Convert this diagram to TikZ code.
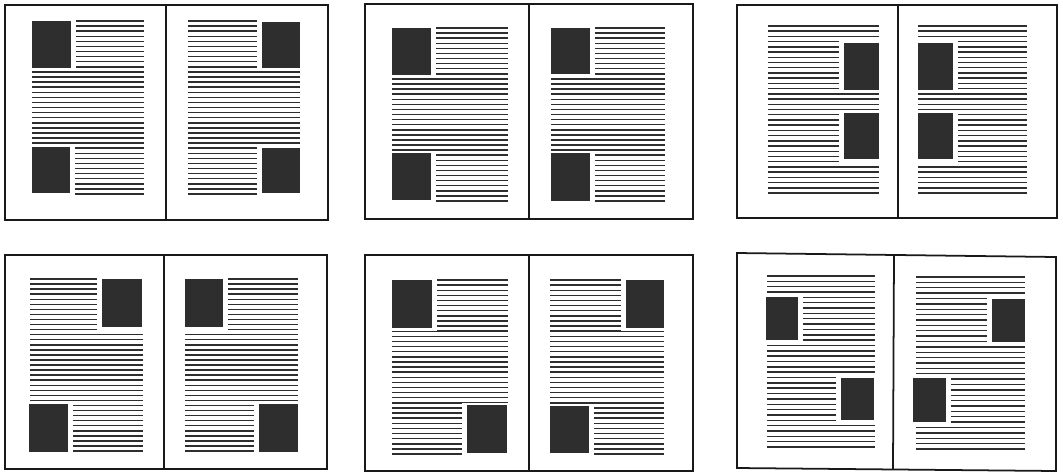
\documentclass[tikz,border=0pt]{standalone}
\begin{document}
\begin{tikzpicture}[x=0.01cm,y=-0.01cm,
  tl/.style={line width=0.42pt,draw=black!82},
  frame/.style={line width=0.5pt,draw=black!90},
  imgc/.style={fill=black!82},
  cover/.style={fill=white}]
\useasboundingbox (0,0) rectangle (1063,475);
\fill[white] (0,0) rectangle (1063,475);
\newcommand\tlines[5]{\foreach \k in {0,...,#5}{\draw[tl] (#1,{#3+\k*(#4-#3)/#5}) -- (#2,{#3+\k*(#4-#3)/#5});}}
\newcommand\img[4]{\fill[cover] ({#1-5},{#2-2.5}) rectangle ({#3+5},{#4+2.5}); \fill[imgc] (#1,#2) rectangle (#3,#4);}
% ---- spread 1 (top left)
\tlines{32}{144}{21}{194}{34}
\tlines{188}{300}{21}{194}{34}
\img{32}{21}{71}{68}
\img{32}{147}{70}{193}
\img{262}{22}{300}{68}
\img{262}{148}{300}{193}
\draw[frame] (5,5) rectangle (328,220);
\draw[frame] (166,5) -- (166,220);
% ---- spread 2 (top middle)
\tlines{392}{508}{28}{201}{34}
\tlines{551}{665}{28}{201}{34}
\img{392}{28}{431}{75}
\img{392}{153}{431}{200}
\img{551}{28}{590}{74}
\img{551}{153}{590}{201}
\draw[frame] (365,4) rectangle (693,219);
\draw[frame] (529,4) -- (529,219);
% ---- spread 3 (top right)
\tlines{768}{879}{26}{193}{32}
\tlines{918}{1027}{26}{193}{32}
\img{844}{43}{879}{90}
\img{844}{113}{879}{159}
\img{918}{43}{953}{90}
\img{918}{113}{953}{159}
\draw[frame] (737,5) rectangle (1057,218);
\draw[frame] (898,5) -- (898,218);
% ---- spread 4 (bottom left)
\tlines{30}{143}{279}{451}{34}
\tlines{185}{298}{279}{451}{34}
\img{102}{279}{142}{327}
\img{29}{404}{68}{452}
\img{185}{279}{223}{327}
\img{259}{404}{298}{452}
\draw[frame] (5,255) rectangle (327,469);
\draw[frame] (164,255) -- (164,469);
% ---- spread 5 (bottom middle)
\tlines{392}{508}{280}{454}{34}
\tlines{550}{664}{280}{454}{34}
\img{392}{280}{432}{328}
\img{467}{405}{507}{453}
\img{626}{280}{664}{328}
\img{550}{406}{589}{453}
\draw[frame] (365,255) rectangle (693,471);
\draw[frame] (529,255) -- (529,471);
% ---- spread 6 (bottom right)
\tlines{767}{875}{276}{447}{32}
\tlines{916}{1025}{277}{449}{32}
\img{766}{297}{798}{340}
\img{841}{378}{874}{420}
\img{992}{299}{1025}{342}
\img{913}{378}{946}{422}
\draw[frame] (737,253) -- (1056,257) -- (1056,471) -- (737,468) -- cycle;
\draw[frame] (894,255) -- (893,469);
\end{tikzpicture}
\end{document}
